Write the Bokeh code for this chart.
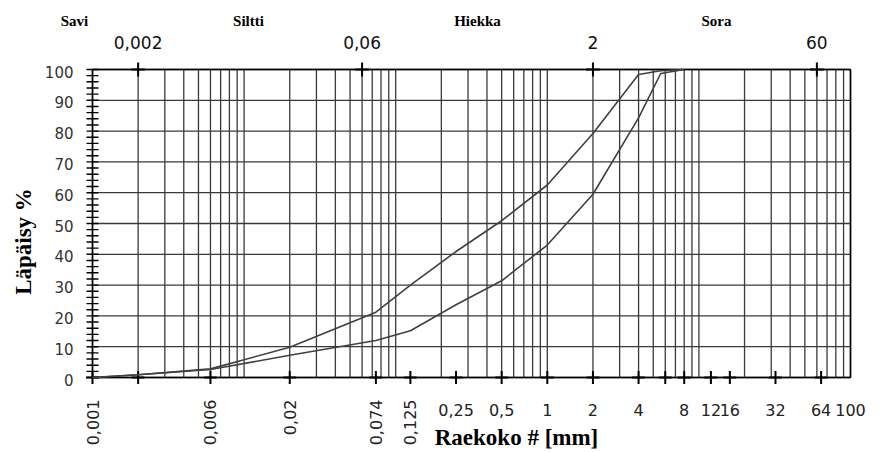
import math
from bokeh.plotting import figure
from bokeh.models import Range1d
from bokeh.core.properties import value
from bokeh.embed import file_html
from bokeh.resources import INLINE

# ---- data ----
sizes = [0.001, 0.002, 0.006, 0.02, 0.074, 0.125, 0.25, 0.5, 1, 2, 4, 5.6, 8]
upper = [0, 0.9, 2.8, 9.8, 21.2, 30.0, 40.9, 50.9, 62.5, 79.2, 98.4, 99.6, 100]
lower = [0, 0.9, 2.6, 7.2, 12.0, 15.2, 23.6, 31.4, 43.0, 59.5, 84.3, 98.7, 100]

y_ticks = [0, 10, 20, 30, 40, 50, 60, 70, 80, 90, 100]
y_labels = ["0", "10", "20", "30", "40", "50", "60", "70", "80", "90", "100"]
y_minor = list(range(0, 101, 2))
top_ticks = [0.002, 0.06, 2, 60]
top_labels = ["0,002", "0,06", "2", "60"]
bottom_ticks = [0.001, 0.002, 0.006, 0.02, 0.074, 0.125, 0.25, 0.5, 1, 2, 4, 6, 8,
                12, 16, 32, 64]
rot_ticks = [0.001, 0.006, 0.02, 0.074, 0.125]
rot_labels = ["0,001", "0,006", "0,02", "0,074", "0,125"]
flat_ticks = [0.25, 0.5, 1, 2, 4, 8, 12, 16, 32, 64, 100]
flat_labels = ["0,25", "0,5", "1", "2", "4", "8", "12", "16", "32", "64", "100"]
classes = ["Savi", "Siltti", "Hiekka", "Sora"]
class_px = [74, 248, 477, 716]
grid_x = [m * 10.0 ** k for k in range(-3, 2) for m in range(1, 10)] + [100]

# ---- layout: the frame fills the canvas; plot box is mapped by pixel geometry ----
W, H = 880, 452
PL, PR, PT, PB = 92, 850, 69, 377          # plot box in pixels
XMIN, XMAX, YMIN, YMAX = 0.001, 100, 0, 100
LX0, LX1 = math.log10(XMIN), math.log10(XMAX)


def dx(px):
    return 10 ** (LX0 + (px - PL) / (PR - PL) * (LX1 - LX0))


def dy(py):
    return YMIN + (PB - py) / (PB - PT) * (YMAX - YMIN)


def py_of(v):
    return PB - (v - YMIN) / (YMAX - YMIN) * (PB - PT)


p = figure(width=W, height=H, x_axis_type="log",
           x_range=Range1d(dx(0), dx(W)), y_range=Range1d(dy(H), dy(0)),
           x_axis_location=None, y_axis_location=None,
           output_backend="svg", toolbar_location=None,
           min_border=0, min_border_left=0, min_border_right=0,
           min_border_top=0, min_border_bottom=0,
           background_fill_color="white", border_fill_color="white")
p.outline_line_color = None
p.xgrid.visible = False
p.ygrid.visible = False

GRID = "#3a3a3a"
# vertical grid
p.segment(x0=grid_x, y0=[YMIN] * len(grid_x), x1=grid_x, y1=[YMAX] * len(grid_x),
          line_color=GRID, line_width=1.3)
# horizontal grid
p.segment(x0=[XMIN] * len(y_ticks), y0=y_ticks, x1=[XMAX] * len(y_ticks), y1=y_ticks,
          line_color=GRID, line_width=1.3)
# frame
p.segment(x0=[XMIN, XMAX, XMIN, XMIN], y0=[YMIN, YMIN, YMIN, YMAX],
          x1=[XMIN, XMAX, XMAX, XMAX], y1=[YMAX, YMAX, YMIN, YMAX],
          line_color="black", line_width=1.6)

# left axis ticks (crossing the axis)
p.scatter(x=[XMIN] * len(y_minor), y=y_minor, marker="dash", size=12,
          line_color="black", line_width=1.4)
# bottom and top "+" ticks
p.scatter(x=bottom_ticks, y=[YMIN] * len(bottom_ticks), marker="cross", size=13,
          line_color="black", line_width=2)
p.scatter(x=top_ticks, y=[YMAX] * len(top_ticks), marker="cross", size=14,
          line_color="black", line_width=2)

# curves
p.line(sizes, upper, line_color="#404040", line_width=1.6)
p.line(sizes, lower, line_color="#404040", line_width=1.6)

SANS = value("DejaVu Sans")
SERIF = value("Liberation Serif")

# y tick labels
p.text(x=[dx(73)] * len(y_ticks), y=[dy(py_of(v) + 2) for v in y_ticks], text=y_labels,
       text_align="right", text_baseline="middle", text_font=SANS,
       text_font_size=value("15px"), text_color="#333333")
# top numbers
p.text(x=top_ticks, y=[dy(42)] * len(top_ticks), text=top_labels,
       text_align="center", text_baseline="middle", text_font=SANS,
       text_font_size=value("17px"), text_color="#111111")
# class names
p.text(x=[dx(v) for v in class_px], y=[dy(20)] * len(classes), text=classes,
       text_align="center", text_baseline="middle", text_font=SERIF,
       text_font_style="bold", text_font_size=value("15px"), text_color="black")
# bottom labels, rotated
p.text(x=rot_ticks, y=[dy(399)] * len(rot_ticks), text=rot_labels, angle=math.pi / 2,
       text_align="right", text_baseline="middle", text_font=SANS,
       text_font_size=value("16px"), text_color="#222222")
# bottom labels, horizontal
p.text(x=flat_ticks, y=[dy(409)] * len(flat_ticks), text=flat_labels,
       text_align="center", text_baseline="middle", text_font=SANS,
       text_font_size=value("16px"), text_color="#222222")
# axis titles
p.text(x=[dx(23)], y=[dy(241)], text=["Läpäisy %"], angle=math.pi / 2,
       text_align="center", text_baseline="middle", text_font=SERIF,
       text_font_style="bold", text_font_size=value("23px"), text_color="black")
p.text(x=[dx(516)], y=[dy(437)], text=["Raekoko # [mm]"],
       text_align="center", text_baseline="middle", text_font=SERIF,
       text_font_style="bold", text_font_size=value("23px"), text_color="black")

open("out.html", "w").write(file_html(p, INLINE))
